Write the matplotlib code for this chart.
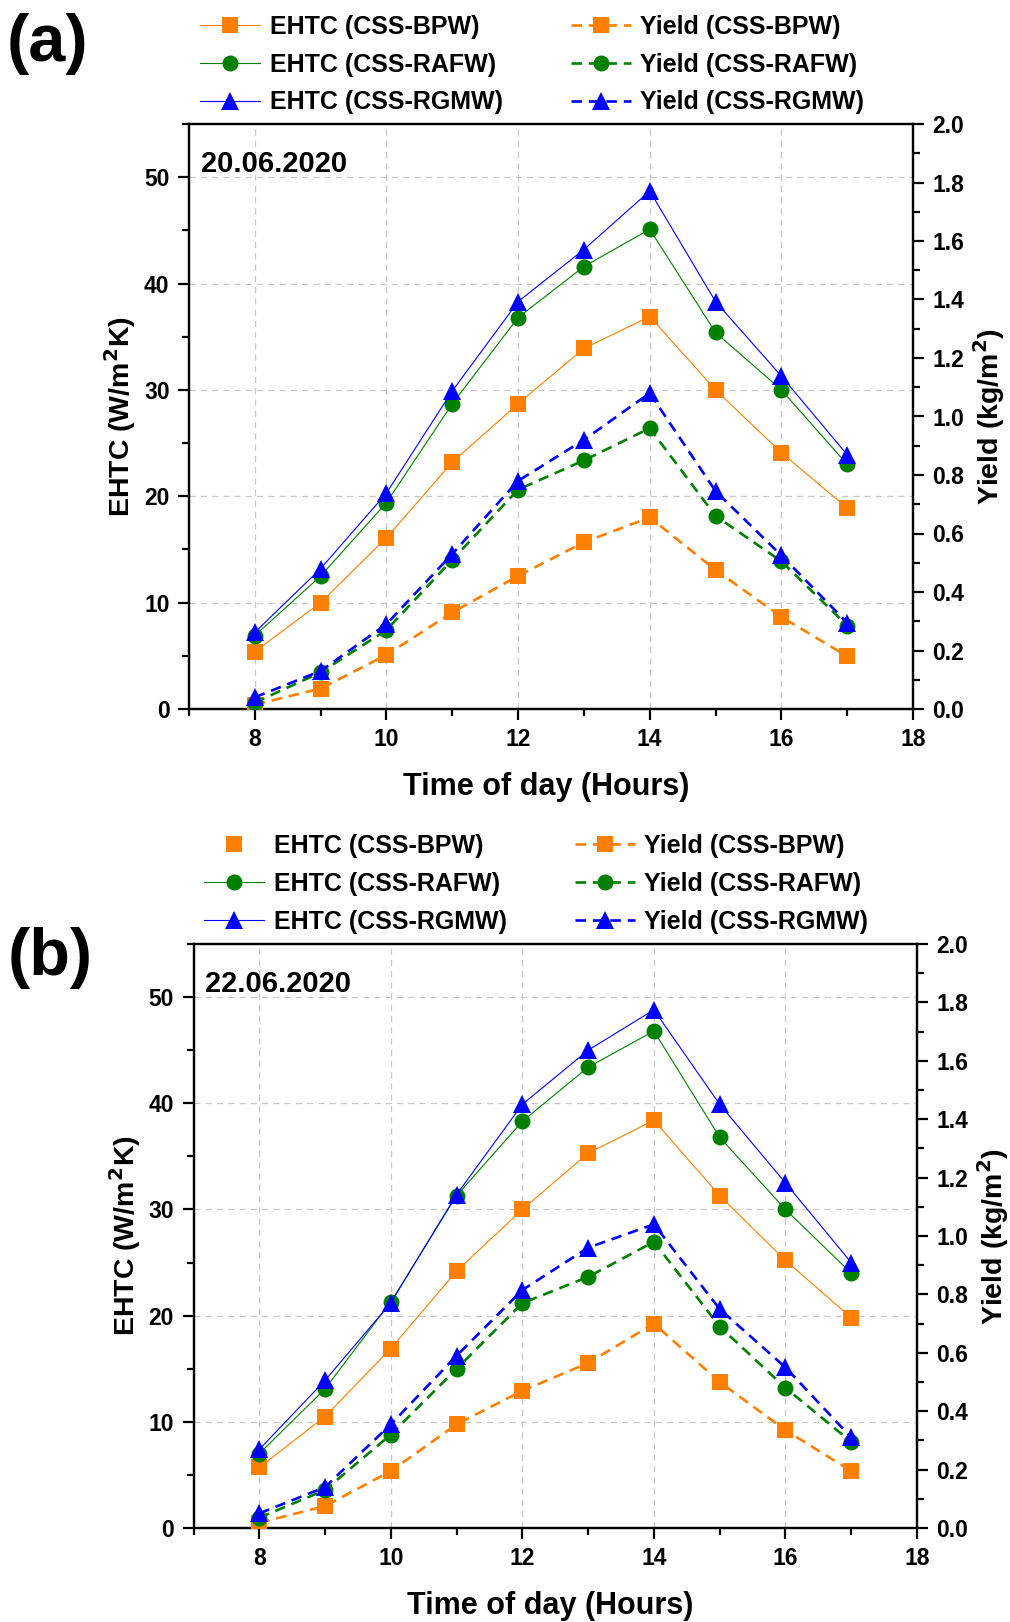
import matplotlib
matplotlib.use("Agg")
import matplotlib.pyplot as plt
from matplotlib.lines import Line2D
from matplotlib.ticker import MultipleLocator, FormatStrFormatter

plt.rcParams['font.family'] = ['Liberation Sans', 'DejaVu Sans']
plt.rcParams['font.weight'] = 'bold'

hours = [8, 9, 10, 11, 12, 13, 14, 15, 16, 17]

# Panel (a) 20.06.2020
a_ehtc_bpw = [5.4, 10.0, 16.1, 23.2, 28.7, 33.9, 36.9, 30.0, 24.1, 18.9]
a_ehtc_rafw = [6.9, 12.5, 19.4, 28.7, 36.8, 41.6, 45.1, 35.4, 30.0, 23.0]
a_ehtc_rgmw = [7.2, 13.2, 20.3, 29.9, 38.3, 43.2, 48.7, 38.3, 31.3, 23.9]
a_yield_bpw = [0.015, 0.07, 0.185, 0.33, 0.455, 0.57, 0.655, 0.475, 0.315, 0.18]
a_yield_rafw = [0.022, 0.125, 0.27, 0.51, 0.75, 0.85, 0.96, 0.66, 0.505, 0.285]
a_yield_rgmw = [0.04, 0.13, 0.29, 0.53, 0.78, 0.92, 1.08, 0.745, 0.525, 0.295]

# Panel (b) 22.06.2020
b_ehtc_bpw = [5.7, 10.5, 16.9, 24.2, 30.0, 35.3, 38.4, 31.3, 25.2, 19.8]
b_ehtc_rafw = [7.0, 13.1, 21.3, 31.3, 38.3, 43.4, 46.8, 36.8, 30.0, 24.0]
b_ehtc_rgmw = [7.4, 13.9, 21.2, 31.4, 39.9, 45.0, 48.8, 39.9, 32.5, 25.0]
b_yield_bpw = [0.018, 0.075, 0.195, 0.355, 0.47, 0.565, 0.70, 0.50, 0.335, 0.195]
b_yield_rafw = [0.035, 0.13, 0.32, 0.545, 0.77, 0.86, 0.98, 0.69, 0.48, 0.295]
b_yield_rgmw = [0.05, 0.14, 0.355, 0.59, 0.815, 0.96, 1.04, 0.75, 0.55, 0.31]

labels_ehtc = ['EHTC (CSS-BPW)', 'EHTC (CSS-RAFW)', 'EHTC (CSS-RGMW)']
labels_yield = ['Yield (CSS-BPW)', 'Yield (CSS-RAFW)', 'Yield (CSS-RGMW)']
dates = ['20.06.2020', '22.06.2020']
panel_labels = ['(a)', '(b)']

colors = ['#FF8000', '#008000', '#0000FF']
markers = ['s', 'o', '^']
msizes = [11, 11.5, 13]

fig = plt.figure(figsize=(10.10, 16.22), dpi=100)

panels = [
    dict(rect=[189/1010, 1-709/1622, 724/1010, 585/1622],
         ehtc=[a_ehtc_bpw, a_ehtc_rafw, a_ehtc_rgmw],
         yld=[a_yield_bpw, a_yield_rafw, a_yield_rgmw],
         leg_anchor=(200/1010, 1-15/1622), bpw_line=True,
         plabel_xy=(47/1010, 1-44/1622), xlabel_y=787),
    dict(rect=[193.5/1010, 1-1528/1622, 723.5/1010, 584/1622],
         ehtc=[b_ehtc_bpw, b_ehtc_rafw, b_ehtc_rgmw],
         yld=[b_yield_bpw, b_yield_rafw, b_yield_rgmw],
         leg_anchor=(204/1010, 1-834/1622), bpw_line=False,
         plabel_xy=(50/1010, 1-958/1622), xlabel_y=1606),
]

for i, p in enumerate(panels):
    ax = fig.add_axes(p['rect'])
    ax2 = ax.twinx()
    handles = []
    for k in range(3):
        ax.plot(hours, p['ehtc'][k], color=colors[k], lw=0.8, marker=markers[k],
                ms=msizes[k], markeredgewidth=0, zorder=3)
    for k in range(3):
        ax2.plot(hours, p['yld'][k], color=colors[k], lw=1.9, ls=(0, (4, 2.6)),
                 marker=markers[k], ms=msizes[k], markeredgewidth=0, zorder=3)
    for k in range(3):
        if k == 0 and not p['bpw_line']:
            handles.append(Line2D([], [], color=colors[k], ls='none', marker=markers[k],
                                  ms=msizes[k], markeredgewidth=0, label=labels_ehtc[k]))
        else:
            handles.append(Line2D([], [], color=colors[k], lw=0.8, marker=markers[k],
                                  ms=msizes[k], markeredgewidth=0, label=labels_ehtc[k]))
    for k in range(3):
        handles.append(Line2D([], [], color=colors[k], lw=1.9, ls=(0, (4, 2.6)),
                              marker=markers[k], ms=msizes[k], markeredgewidth=0,
                              label=labels_yield[k]))

    ax.set_xlim(7, 18)
    ax.set_ylim(0, 55)
    ax2.set_ylim(0, 2.0)
    ax.xaxis.set_major_locator(MultipleLocator(2))
    ax.xaxis.set_minor_locator(MultipleLocator(1))
    ax.yaxis.set_major_locator(MultipleLocator(10))
    ax.yaxis.set_minor_locator(MultipleLocator(5))
    ax2.yaxis.set_major_locator(MultipleLocator(0.2))
    ax2.yaxis.set_minor_locator(MultipleLocator(0.1))
    ax2.yaxis.set_major_formatter(FormatStrFormatter('%.1f'))

    ax.grid(True, which='major', color='#c8c8c8', ls=(0, (5, 4)), lw=0.9)
    ax.set_axisbelow(True)

    for a in (ax, ax2):
        for s in a.spines.values():
            s.set_linewidth(1.6)
    ax.tick_params(axis='both', which='major', direction='out', length=8, width=1.6,
                   labelsize=16.5, pad=6)
    ax.tick_params(axis='both', which='minor', direction='out', length=5, width=1.6)
    ax.tick_params(axis='y', which='both', right=False)
    ax2.tick_params(axis='y', which='major', direction='out', length=8, width=1.6,
                    labelsize=16.5, pad=6)
    ax2.tick_params(axis='y', which='minor', direction='out', length=5, width=1.6)
    for lab in ax.get_xticklabels() + ax.get_yticklabels() + ax2.get_yticklabels():
        lab.set_fontweight('bold')

    ax.set_ylabel('EHTC (W/m$^\\mathbf{2}$K)', fontsize=20.5, fontweight='bold', labelpad=4)
    ax2.set_ylabel('Yield (kg/m$^\\mathbf{2}$)', fontsize=20.5, fontweight='bold', labelpad=5)
    fig.text(0.5 * (p['rect'][0] * 2 + p['rect'][2]) - 0.005, 1 - p['xlabel_y']/1622,
             'Time of day (Hours)', fontsize=22, fontweight='bold', ha='center', va='center')

    ax.text(0.016, 0.932, dates[i], transform=ax.transAxes, fontsize=21,
            fontweight='bold', ha='left', va='center')

    fig.text(p['plabel_xy'][0], p['plabel_xy'][1], panel_labels[i], fontsize=48,
             fontweight='bold', ha='center', va='center')

    fig.legend(handles=handles, ncol=2, loc='upper left', bbox_to_anchor=p['leg_anchor'],
               frameon=False, handlelength=2.4, handletextpad=0.4,
               columnspacing=2.7, labelspacing=0.55, borderpad=0, borderaxespad=0,
               prop={'weight': 'bold', 'size': 18})

fig.savefig('out.png', dpi=100)
